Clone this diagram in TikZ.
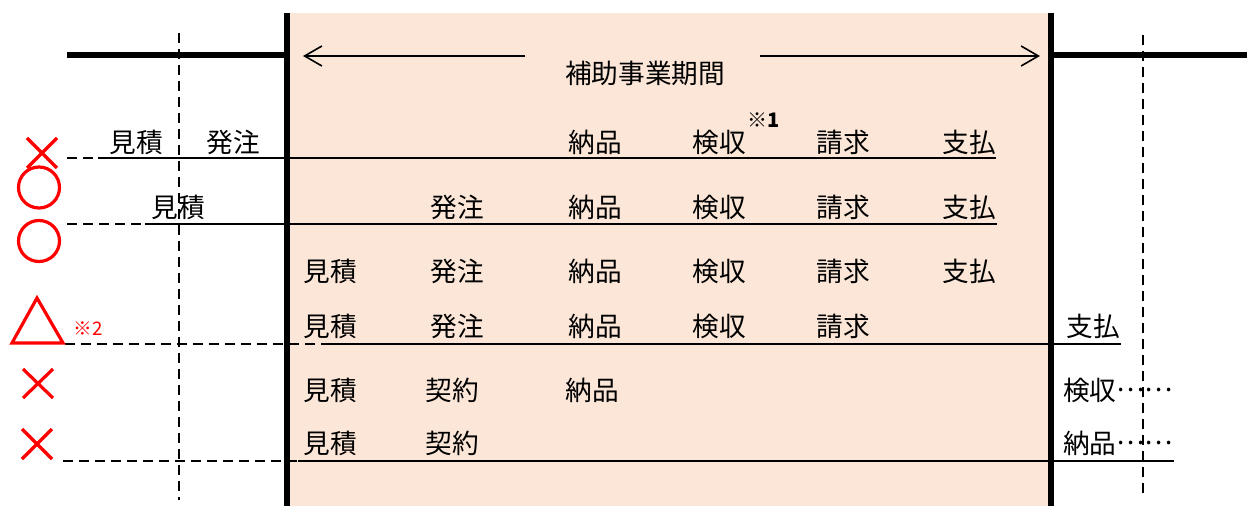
\documentclass[tikz,border=0pt]{standalone}
\usepackage{fontspec}
\setmainfont{Noto Sans CJK JP}
\usepackage{tikz}
\usetikzlibrary{arrows.meta}
\definecolor{peach}{HTML}{FBE6D8}

\begin{document}
\begin{tikzpicture}[x=0.75pt, y=-0.75pt,
    every node/.style={font=\fontsize{20}{24}\selectfont, inner sep=0pt},
    wall/.style={line width=3.8pt},
    guide/.style={dash pattern=on 7.5pt off 4.5pt, line width=1.4pt},
    rowline/.style={line width=1.5pt},
    redmark/.style={red, line width=2.4pt}]

    \useasboundingbox (0,0) rectangle (1247,506);

    % Background
    \fill[peach] (287,13) rectangle (1051,506);

    % Guides
    \draw[guide] (179,33) -- (179,500);
    \draw[guide] (1143,35) -- (1143,497);

    % Row lines
    \draw[guide] (67,158) -- (98,158);
    \draw[rowline] (98,158) -- (996,158);
    \draw[guide] (67,224) -- (145,224);
    \draw[rowline] (145,224) -- (997,224);
    \draw[guide] (65,344) -- (330,344);
    \draw[rowline] (330,344) -- (1121,344);
    \draw[guide] (63,461) -- (298,461);
    \draw[rowline] (298,461) -- (1174,461);

    % Walls
    \draw[wall] (287,13) -- (287,506);
    \draw[wall] (1051,13) -- (1051,506);
    \draw[line width=4.5pt] (67,55) -- (287,55);
    \draw[line width=4.5pt] (1051,55) -- (1247,55);

    % Period
    \node at (645,73) (period) {補助事業期間};
    \coordinate (startL) at (525,56);
    \coordinate (endL) at (303,56);
    \coordinate (startR) at (760,56);
    \coordinate (endR) at (1040,56);
    \draw[-{Straight Barb[length=13pt,width=15pt]}, line width=1.2pt] (startL) -- (endL);
    \draw[-{Straight Barb[length=13pt,width=15pt]}, line width=1.2pt] (startR) -- (endR);

    % Marks
    \draw[redmark] (27,138) -- (57,168) (27,168) -- (57,138);
    \draw[redmark] (39,187.5) circle[radius=20.5];
    \draw[redmark] (39,241) circle[radius=20.5];
    \draw[redmark, line join=miter] (37,298) -- (63,343) -- (12,343) -- cycle;
    \node[red, font=\fontsize{14}{16}\selectfont] at (88,329) (note2) {※2};
    \draw[redmark] (23,369) -- (53,398) (23,398) -- (53,369);
    \draw[redmark] (22,429) -- (52,459) (22,459) -- (52,429);

    % Row 1
    \node at (136,142) (est1) {見積};
    \node at (233,142) (ord1) {発注};
    \node at (595,142) (dlv1) {納品};
    \node at (719,142) (insp1) {検収};
    \node[font=\fontsize{15}{17}\selectfont\bfseries] at (764,120) (note1) {※1};
    \node at (843,142) (bill1) {請求};
    \node at (969,142) (pay1) {支払};

    % Row 2
    \node at (178,207) (est2) {見積};
    \node at (457,207) (ord2) {発注};
    \node at (595,207) (dlv2) {納品};
    \node at (719,207) (insp2) {検収};
    \node at (843,207) (bill2) {請求};
    \node at (969,207) (pay2) {支払};

    % Row 3
    \node at (330,271) (est3) {見積};
    \node at (457,271) (ord3) {発注};
    \node at (595,271) (dlv3) {納品};
    \node at (719,271) (insp3) {検収};
    \node at (843,271) (bill3) {請求};
    \node at (969,271) (pay3) {支払};

    % Row 4
    \node at (330,326) (est4) {見積};
    \node at (457,326) (ord4) {発注};
    \node at (595,326) (dlv4) {納品};
    \node at (719,326) (insp4) {検収};
    \node at (843,326) (bill4) {請求};
    \node at (1093,326) (pay4) {支払};

    % Row 5
    \node at (330,390) (est5) {見積};
    \node at (452,390) (ctr5) {契約};
    \node at (592,390) (dlv5) {納品};
    \node[anchor=west] at (1063,390) (insp5) {検収\raisebox{0.32em}{……}};

    % Row 6
    \node at (330,443) (est6) {見積};
    \node at (452,443) (ctr6) {契約};
    \node[anchor=west] at (1063,443) (dlv6) {納品\raisebox{0.32em}{……}};

\end{tikzpicture}
\end{document}
